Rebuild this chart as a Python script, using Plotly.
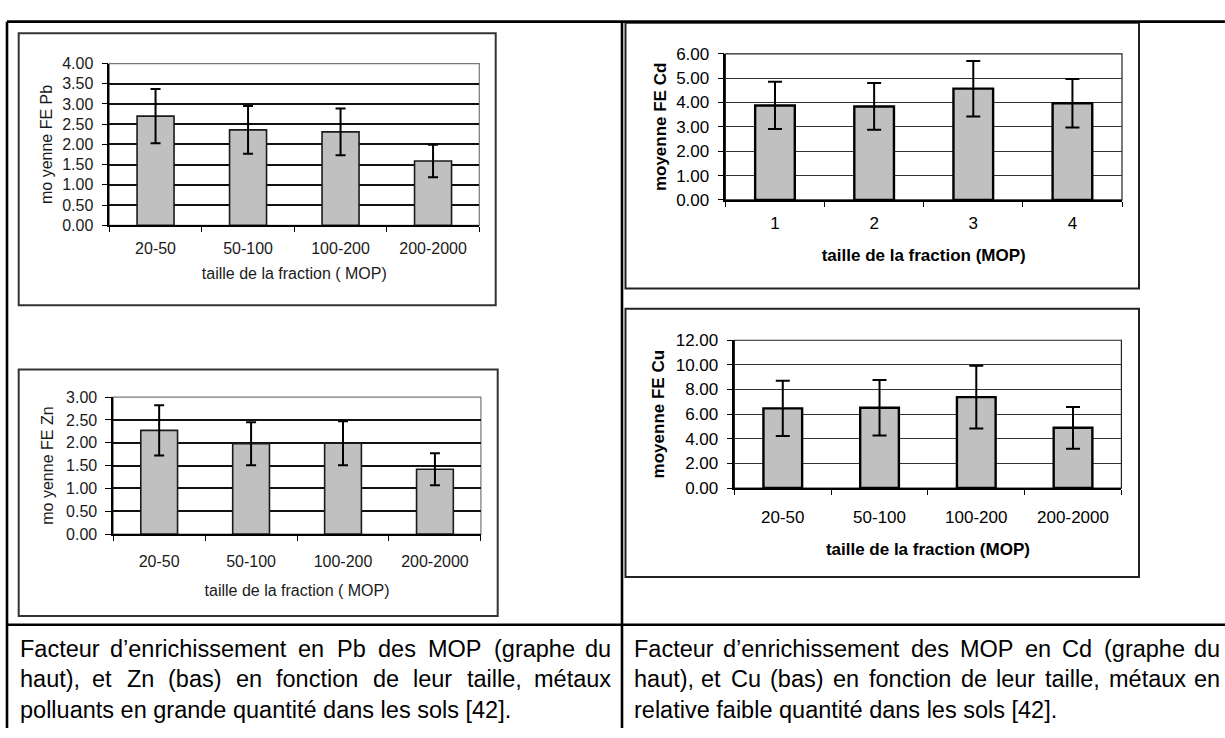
import plotly.graph_objects as go

W, H = 1225, 738

# ---------------- data ----------------
size_classes = ["20-50", "50-100", "100-200", "200-2000"]
cd_classes = ["1", "2", "3", "4"]

pb_mean = [2.70, 2.36, 2.31, 1.59]
pb_err = [0.67, 0.59, 0.58, 0.40]
zn_mean = [2.27, 1.98, 1.99, 1.42]
zn_err = [0.55, 0.47, 0.48, 0.35]
cd_mean = [3.88, 3.84, 4.57, 3.97]
cd_err = [0.97, 0.96, 1.14, 1.00]
cu_mean = [6.47, 6.52, 7.38, 4.89]
cu_err = [2.25, 2.25, 2.54, 1.70]

left_caption = [
    "Facteur d’enrichissement en Pb des MOP (graphe du",
    "haut), et Zn (bas) en fonction de leur taille, métaux",
    "polluants en grande quantité dans les sols [42].",
]
right_caption = [
    "Facteur d’enrichissement des MOP en Cd (graphe du",
    "haut), et Cu (bas) en fonction de leur taille, métaux en",
    "relative faible quantité dans les sols [42].",
]


# ---------------- helpers ----------------
def fx(px):
    return px / W


def fy(py):
    return 1 - py / H


def xdom(a, b):
    return [fx(a), fx(b)]


def ydom(top, bottom):
    return [fy(bottom), fy(top)]


OLD_FONT = dict(family="Liberation Sans, Arial, sans-serif", size=16, color="#1a1a1a")
NEW_FONT = dict(family="Liberation Sans, Arial, sans-serif", size=17, color="#000000")

fig = go.Figure()

panels = [
    dict(n="", cats=size_classes, mean=pb_mean, err=pb_err, xd=(109.3, 479.3), yd=(56, 222),
         rng=[0, 4], dt=0.5, yt="mo yenne FE Pb", xt="taille de la fraction ( MOP)", old=True,
         xls=8, xts=12, yts=6),
    dict(n="2", cats=cd_classes, mean=cd_mean, err=cd_err, xd=(725.4, 1122), yd=(46, 196),
         rng=[0, 6], dt=1, yt="<b>moyenne FE Cd</b>", xt="<b>taille de la fraction (MOP)</b>", old=False,
         xls=7, xts=17, yts=5),
    dict(n="3", cats=size_classes, mean=zn_mean, err=zn_err, xd=(113.2, 480.9), yd=(398.3, 539),
         rng=[0, 3], dt=0.5, yt="mo yenne FE Zn", xt="taille de la fraction ( MOP)", old=True,
         xls=12, xts=16, yts=9),
    dict(n="4", cats=size_classes, mean=cu_mean, err=cu_err, xd=(734.4, 1121.4), yd=(340, 491.7),
         rng=[0, 12], dt=2, yt="<b>moyenne FE Cu</b>", xt="<b>taille de la fraction (MOP)</b>", old=False,
         xls=13, xts=17, yts=7),
]

layout_axes = {}
shapes = []
for p in panels:
    n = p["n"]
    font = OLD_FONT if p["old"] else NEW_FONT
    fig.add_trace(go.Bar(
        x=p["cats"], y=p["mean"],
        xaxis="x" + n, yaxis="y" + n,
        marker=dict(color="#c0c0c0",
                    line=dict(color="#1a1a1a" if p["old"] else "#000000",
                              width=1.6 if p["old"] else 2.4)),
        error_y=dict(type="data", array=p["err"], visible=True, color="#000000",
                     thickness=2, width=5 if p["old"] else 7),
        showlegend=False, hoverinfo="skip",
    ))
    layout_axes["xaxis" + n] = dict(
        type="category", domain=xdom(*p["xd"]), anchor="y" + n,
        showline=True, linecolor="#000000", linewidth=1.5,
        ticks="outside", tickson="boundaries", ticklen=5, tickcolor="#000000", tickwidth=1.3,
        tickfont=font, ticklabelstandoff=p["xls"],
        showgrid=False, zeroline=False, fixedrange=True,
        title=dict(text=p["xt"], font=font, standoff=p["xts"]),
    )
    layout_axes["yaxis" + n] = dict(
        domain=ydom(*p["yd"]), anchor="x" + n, range=p["rng"], dtick=p["dt"], tick0=0,
        tickformat=".2f", showline=True, linecolor="#000000", linewidth=1.5,
        ticks="outside", ticklen=6, tickcolor="#000000", tickwidth=1.3,
        tickfont=font, ticklabelstandoff=5,
        showgrid=True, gridcolor="#111111" if p["old"] else "#333333",
        gridwidth=1.9 if p["old"] else 1.1,
        zeroline=False, fixedrange=True,
        title=dict(text=p["yt"], font=font, standoff=p["yts"]),
    )
    shapes.append(dict(type="rect", xref="x%s domain" % n, yref="y%s domain" % n,
                       x0=0, x1=1, y0=0, y1=1,
                       line=dict(color="#777777" if p["old"] else "#222222", width=1.2),
                       layer="below"))

# chart boxes
boxes = [
    ((18.7, 25), (495.7, 304), "#333333"),
    ((18.7, 370), (497.7, 623), "#333333"),
    ((625.5, 14), (1139, 287), "#222222"),
    ((625.5, 307.7), (1139, 583), "#222222"),
]
for (x0, y0), (x1, y1), col in boxes:
    shapes.append(dict(type="rect", xref="paper", yref="paper",
                       x0=fx(x0), x1=fx(x1), y0=fy(y1), y1=fy(y0),
                       line=dict(color=col, width=2), layer="below"))

# table borders
table_lines = [
    (7, 13, 1225, 13),
    (7, 13, 7, 738),
    (622, 13, 622, 738),
    (7, 632, 1225, 632),
]
for x0, y0, x1, y1 in table_lines:
    shapes.append(dict(type="line", xref="paper", yref="paper",
                       x0=fx(x0), x1=fx(x1), y0=fy(y0), y1=fy(y1),
                       line=dict(color="#000000", width=2.6)))

# ---------------- captions (justified) ----------------
ARIAL = {' ': 278, '’': 222, "'": 191, '(': 333, ')': 333, ',': 278, '.': 278,
         '[': 278, ']': 278, '-': 333, 'é': 556}
for c in "0123456789":
    ARIAL[c] = 556
ARIAL.update(dict(zip("ABCDEFGHIJKLMNOPQRSTUVWXYZ",
                      [667, 667, 722, 722, 667, 611, 778, 722, 278, 500, 667, 556, 833,
                       722, 778, 667, 778, 722, 667, 611, 722, 667, 944, 667, 667, 611])))
ARIAL.update(dict(zip("abcdefghijklmnopqrstuvwxyz",
                      [556, 556, 500, 556, 556, 278, 556, 556, 222, 222, 500, 222, 833,
                       556, 556, 556, 556, 333, 500, 278, 556, 500, 722, 500, 500, 500])))

CAP_SIZE = 23.5
CAP_FONT = dict(family="Liberation Sans, Arial, sans-serif", size=CAP_SIZE, color="#000000")


def tw(s):
    return sum(ARIAL.get(c, 556) for c in s) / 1000.0 * CAP_SIZE


annotations = []
line_centers = [657, 688, 720]


def add_caption(lines, left, right):
    for i, line in enumerate(lines):
        yc = fy(line_centers[i])
        words = line.split(" ")
        justify = i < len(lines) - 1
        if not justify:
            annotations.append(dict(text=line, x=fx(left), y=yc, xref="paper", yref="paper",
                                    xanchor="left", yanchor="middle", showarrow=False,
                                    font=CAP_FONT))
            continue
        widths = [tw(w) for w in words]
        gap = (right - left - sum(widths)) / (len(words) - 1)
        x = left
        for j, (w, wd) in enumerate(zip(words, widths)):
            if j == 0:
                xa, xpos = "left", left
            elif j == len(words) - 1:
                xa, xpos = "right", right
            else:
                xa, xpos = "center", x + wd / 2
            annotations.append(dict(text=w, x=fx(xpos), y=yc, xref="paper", yref="paper",
                                    xanchor=xa, yanchor="middle", showarrow=False,
                                    font=CAP_FONT))
            x += wd + gap


add_caption(left_caption, 18, 613)
add_caption(right_caption, 632, 1222)

fig.update_layout(
    width=W, height=H, autosize=False,
    margin=dict(l=0, r=0, t=0, b=0),
    paper_bgcolor="white", plot_bgcolor="white",
    bargap=0.6, showlegend=False,
    shapes=shapes, annotations=annotations,
    **layout_axes,
)

fig.write_html("out.html",
               config={"displayModeBar": False},
               post_script="document.body.style.margin='0';document.body.style.overflow='hidden';")
